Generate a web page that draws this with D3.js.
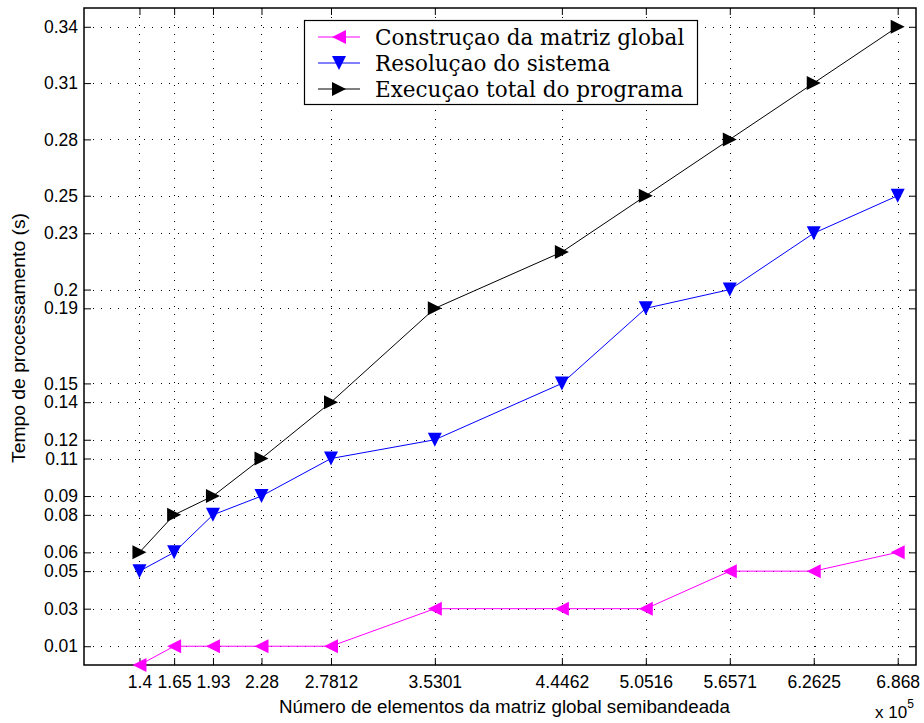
<!DOCTYPE html>
<html>
<head>
<meta charset="utf-8">
<script src="https://cdn.jsdelivr.net/npm/d3@7"></script>
<style>
  body { margin: 0; background: #fff; }
  svg { display: block; }
</style>
</head>
<body>
<svg id="chart" width="924" height="723"></svg>
<script>
// Number of elements (x 10^5) of the semi-banded global matrix
const elements = [1.4, 1.65, 1.93, 2.28, 2.7812, 3.5301, 4.4462, 5.0516, 5.6571, 6.2625, 6.868];
const xTickLabels = ["1.4", "1.65", "1.93", "2.28", "2.7812", "3.5301", "4.4462", "5.0516", "5.6571", "6.2625", "6.868"];

// Processing times (s)
const construcao = [0.00, 0.01, 0.01, 0.01, 0.01, 0.03, 0.03, 0.03, 0.05, 0.05, 0.06];
const resolucao  = [0.05, 0.06, 0.08, 0.09, 0.11, 0.12, 0.15, 0.19, 0.20, 0.23, 0.25];
const execucao   = [0.06, 0.08, 0.09, 0.11, 0.14, 0.19, 0.22, 0.25, 0.28, 0.31, 0.34];

const yTicks = [0.01, 0.03, 0.05, 0.06, 0.08, 0.09, 0.11, 0.12, 0.14, 0.15, 0.19, 0.2, 0.23, 0.25, 0.28, 0.31, 0.34];

const seriesNames = ["Construçao da matriz global", "Resoluçao do sistema", "Execuçao total do programa"];
const seriesColors = ["#ff00ff", "#0000ff", "#000000"];
const seriesShapes = ["left", "down", "right"];
const seriesValues = [construcao, resolucao, execucao];

const svg = d3.select("#chart");
const L = 84, R = 916, T = 8, B = 665;

const x = d3.scaleLinear().domain([1, 7]).range([L, R]);
const y = d3.scaleLinear().domain([0, 0.35]).range([B, T]);

const sans = "'Liberation Sans', Arial, Helvetica, sans-serif";
const serif = "'DejaVu Serif', 'Liberation Serif', serif";

// dotted grid
const grid = svg.append("g").attr("stroke", "#000").attr("stroke-width", 1)
  .attr("stroke-dasharray", "1,7.5").attr("shape-rendering", "crispEdges");
grid.selectAll(".gx").data(elements).join("line")
  .attr("x1", d => Math.round(x(d)) + 0.5).attr("x2", d => Math.round(x(d)) + 0.5)
  .attr("y1", T).attr("y2", B);
grid.selectAll(".gy").data(yTicks).join("line")
  .attr("y1", d => Math.round(y(d)) + 0.5).attr("y2", d => Math.round(y(d)) + 0.5)
  .attr("x1", L).attr("x2", R);

// axes with inward ticks on all four sides
function styleAxis(g) {
  g.select(".domain").remove();
  g.selectAll(".tick line").attr("stroke", "#000").attr("stroke-width", 1);
  g.selectAll(".tick text").attr("font-family", sans).attr("font-size", 17.5).attr("fill", "#000");
}
svg.append("g").attr("transform", `translate(0,${B})`)
  .call(d3.axisBottom(x).tickValues(elements).tickFormat((d, i) => xTickLabels[i]).tickSizeInner(-7).tickPadding(11))
  .call(styleAxis);
svg.append("g").attr("transform", `translate(0,${T})`)
  .call(d3.axisTop(x).tickValues(elements).tickFormat("").tickSizeInner(-7))
  .call(styleAxis);
svg.append("g").attr("transform", `translate(${L},0)`)
  .call(d3.axisLeft(y).tickValues(yTicks).tickFormat(d3.format("")).tickSizeInner(-7).tickPadding(6))
  .call(styleAxis);
svg.append("g").attr("transform", `translate(${R},0)`)
  .call(d3.axisRight(y).tickValues(yTicks).tickFormat("").tickSizeInner(-7))
  .call(styleAxis);

// plot frame
svg.append("rect").attr("x", L).attr("y", T).attr("width", R - L).attr("height", B - T)
  .attr("fill", "none").attr("stroke", "#000").attr("stroke-width", 1.5);

// triangle markers
function triPath(shape, s) {
  const a = s;      // half-size
  if (shape === "left")  return `M${-a},0 L${a},${-a} L${a},${a} Z`;
  if (shape === "right") return `M${a},0 L${-a},${-a} L${-a},${a} Z`;
  return `M${-a},${-a} L${a},${-a} L0,${a} Z`;
}

const line = d3.line().x((d, i) => x(elements[i])).y(d => y(d));
seriesValues.forEach((vals, k) => {
  const g = svg.append("g");
  g.append("path").datum(vals).attr("d", line)
    .attr("fill", "none").attr("stroke", seriesColors[k]).attr("stroke-width", 1);
  g.selectAll("path.m").data(vals).join("path").attr("class", "m")
    .attr("transform", (d, i) => `translate(${x(elements[i])},${y(d)})`)
    .attr("d", triPath(seriesShapes[k], 7))
    .attr("fill", seriesColors[k]);
});

// legend
const lg = svg.append("g");
lg.append("rect").attr("x", 304.5).attr("y", 20.5).attr("width", 393).attr("height", 84)
  .attr("fill", "#fff").attr("stroke", "#000").attr("stroke-width", 1.2);
const rowsY = [37, 63, 89];
seriesNames.forEach((name, k) => {
  lg.append("line").attr("x1", 318).attr("x2", 360).attr("y1", rowsY[k]).attr("y2", rowsY[k])
    .attr("stroke", seriesColors[k]).attr("stroke-width", 1);
  lg.append("path").attr("transform", `translate(339,${rowsY[k]})`)
    .attr("d", triPath(seriesShapes[k], 7)).attr("fill", seriesColors[k]);
  lg.append("text").attr("x", 375).attr("y", rowsY[k] + 8)
    .attr("font-family", serif).attr("font-size", 21.5).attr("fill", "#000").text(name);
});

// axis titles
svg.append("text").attr("x", 504.5).attr("y", 713).attr("text-anchor", "middle")
  .attr("font-family", sans).attr("font-size", 17.5).attr("textLength", 451).attr("lengthAdjust", "spacingAndGlyphs")
  .text("Número de elementos da matriz global semibandeada");
svg.append("text").attr("transform", `translate(25,338) rotate(-90)`).attr("text-anchor", "middle")
  .attr("font-family", sans).attr("font-size", 17.5).attr("textLength", 250).attr("lengthAdjust", "spacingAndGlyphs")
  .text("Tempo de processamento (s)");

// exponent label
const ex = svg.append("text").attr("x", 875).attr("y", 718)
  .attr("font-family", sans).attr("font-size", 17);
ex.append("tspan").text("x 10");
ex.append("tspan").attr("dy", -10).attr("font-size", 12).text("5");
</script>
</body>
</html>
